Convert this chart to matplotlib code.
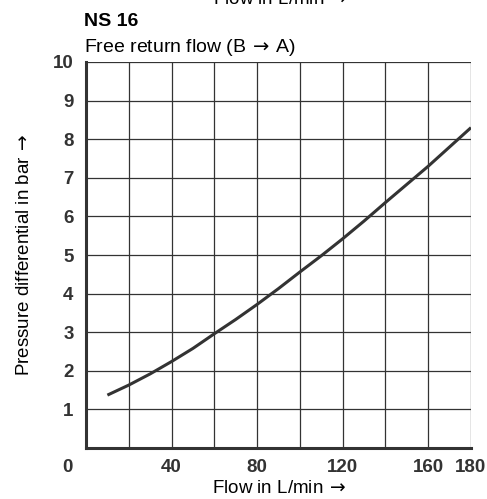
import matplotlib
matplotlib.use('Agg')
import matplotlib.pyplot as plt

# curve
flow = [10, 20, 30, 40, 50, 60, 70, 80, 90, 100, 110, 120, 130, 140, 150, 160, 170, 180]
dp = [1.37, 1.63, 1.92, 2.24, 2.58, 2.96, 3.33, 3.72, 4.13, 4.56, 4.98, 5.42,
      5.88, 6.36, 6.83, 7.30, 7.80, 8.30]

xticks = [40, 80, 120, 160, 180]
yticks = [1, 2, 3, 4, 5, 6, 7, 8, 9, 10]

plt.rcParams['font.family'] = ['Liberation Sans', 'DejaVu Sans']
dark = '#333333'
arrow = r'$\,\rightarrow$'
arrow_mid = r'$\,\rightarrow\,$'

fig = plt.figure(figsize=(4.87, 4.99), dpi=100)
ax = fig.add_axes([86/487, 1-448/499, (471-86)/487, (448-62)/499])

ax.set_xlim(0, 180)
ax.set_ylim(0, 10)
for gx in range(20, 181, 20):
    ax.axvline(gx, color=dark, lw=0.9, zorder=1)
for gy in range(1, 11):
    ax.axhline(gy, color=dark, lw=0.9, zorder=1)

ax.plot(flow, dp, color=dark, lw=2.2, solid_capstyle='butt', zorder=3)

ax.set_xticks(xticks)
ax.set_yticks(yticks)
ax.tick_params(length=0, labelsize=13.5, colors=dark)
ax.tick_params(axis='x', pad=8)
ax.tick_params(axis='y', pad=9)
for lab in ax.get_xticklabels() + ax.get_yticklabels():
    lab.set_fontweight('bold')
ax.annotate('0', xy=(0, 0), xycoords='axes fraction', xytext=(-19, -11),
            textcoords='offset pixels', ha='center', va='top',
            fontsize=13.5, fontweight='bold', color=dark)

for s in ['top', 'right']:
    ax.spines[s].set_visible(False)
ax.spines['left'].set_linewidth(2.2)
ax.spines['bottom'].set_linewidth(2.2)
ax.spines['left'].set_color(dark)
ax.spines['bottom'].set_color(dark)

ax.set_xlabel('Flow in L/min' + arrow, fontsize=13.5, labelpad=3)
ax.set_ylabel('Pressure differential in bar' + arrow, fontsize=13.5, labelpad=14)

fig.text(84/487, 1-26/499, 'NS 16', fontsize=14, fontweight='bold', va='baseline')
fig.text(84/487, 1-52/499, 'Free return flow (B' + arrow_mid + 'A)', fontsize=14, va='baseline')
# leftover label of the chart above, cut off by the frame
fig.text(280/487, 1-4/499, 'Flow in L/min' + arrow, fontsize=13.5, ha='center', va='baseline')

fig.savefig('out.png', dpi=100)
